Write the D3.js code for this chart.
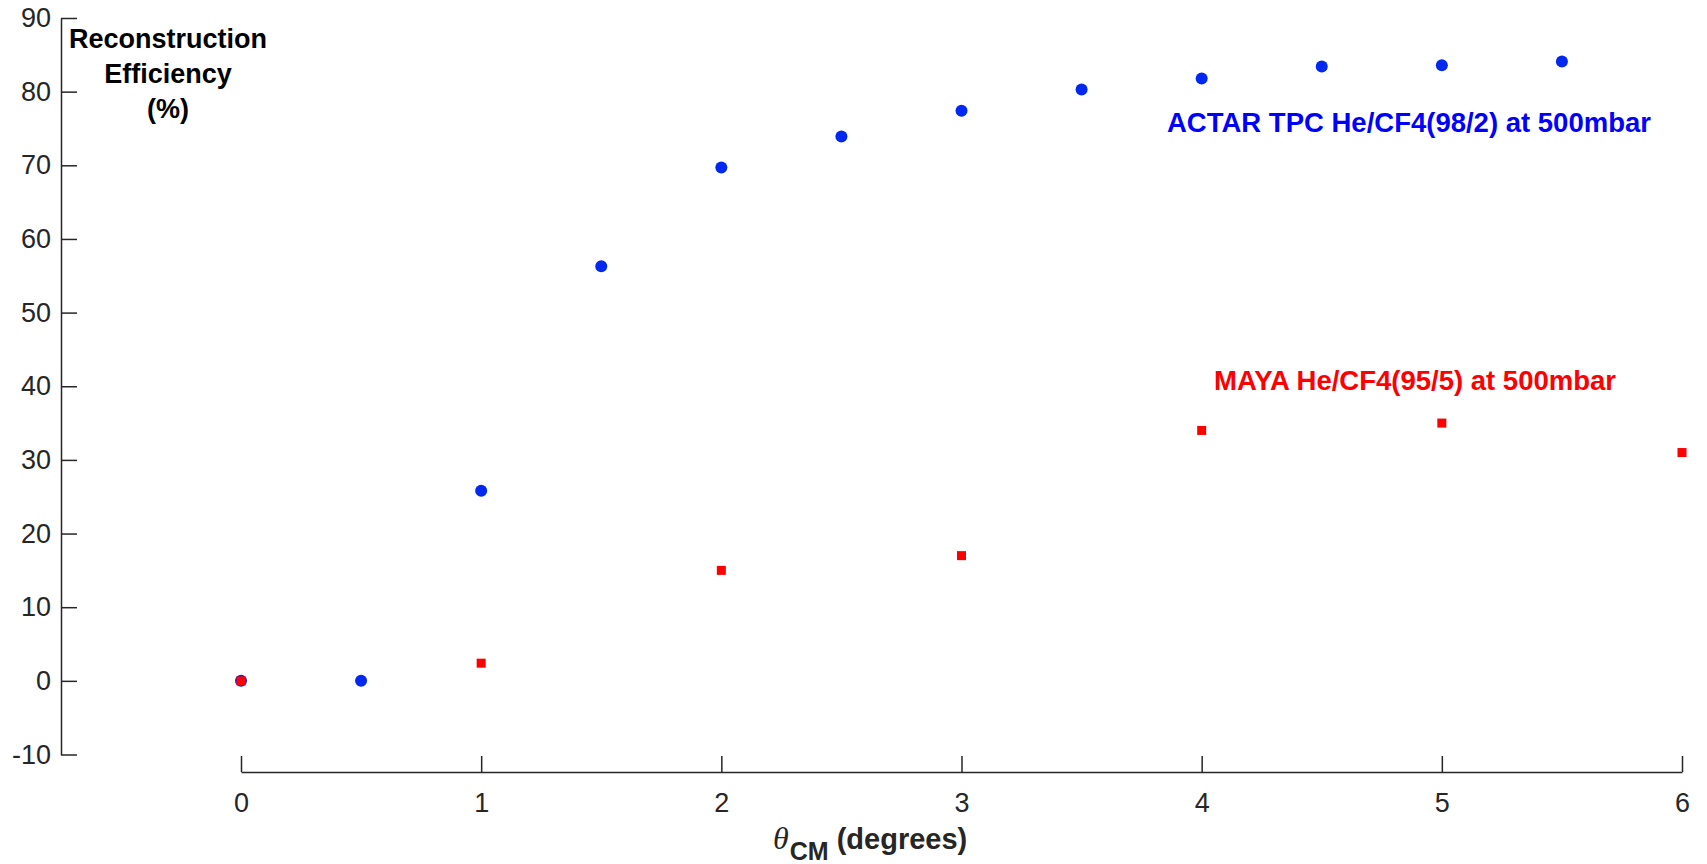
<!DOCTYPE html>
<html>
<head>
<meta charset="utf-8">
<script src="https://cdn.jsdelivr.net/npm/d3@7/dist/d3.min.js"></script>
<style>
  html, body { margin: 0; padding: 0; background: #fff; }
  svg { display: block; }
</style>
</head>
<body>
<script>
// Reconstruction efficiency vs. centre-of-mass angle for two active targets
const actarAngles = [0, 0.5, 1, 1.5, 2, 2.5, 3, 3.5, 4, 4.5, 5, 5.5];
const actarEff    = [0, 0, 25.8, 56.3, 69.7, 73.9, 77.4, 80.3, 81.8, 83.4, 83.6, 84.1];
const mayaAngles  = [0, 1, 2, 3, 4, 5, 6];
const mayaEff     = [0, 2.4, 15.0, 17.0, 34.0, 35.0, 31.0];
const xTicks = [0, 1, 2, 3, 4, 5, 6];
const yTicks = [-10, 0, 10, 20, 30, 40, 50, 60, 70, 80, 90];
const actarLabel = "ACTAR TPC He/CF4(98/2) at 500mbar";
const mayaLabel  = "MAYA He/CF4(95/5) at 500mbar";

const W = 1707, H = 864;
const axisColor = "#262626";
const blue = "#0028f0", red = "#ff0000";
const sans = "'Liberation Sans', Arial, sans-serif";
const plain = d => String(d); // hyphen-minus, as in the plotting tool's tick labels

const svg = d3.select("body").append("svg").attr("width", W).attr("height", H);

const x = d3.scaleLinear().domain([0, 6]).range([241, 1682]);
const y = d3.scaleLinear().domain([-10, 90]).range([754.5, 18]);

// y axis: ticks point into the plot, offset from the x axis
const yAxis = svg.append("g")
  .attr("transform", "translate(61,0)")
  .call(d3.axisLeft(y).tickValues(yTicks).tickFormat(plain)
    .tickSizeInner(-16).tickSizeOuter(0).tickPadding(10));

// x axis: ticks point up, starts at the first data column
const xAxis = svg.append("g")
  .attr("transform", "translate(0,772)")
  .call(d3.axisBottom(x).tickValues(xTicks).tickFormat(plain)
    .tickSizeInner(-16).tickSizeOuter(0).tickPadding(21));

[yAxis, xAxis].forEach(g => {
  g.selectAll("path, line").attr("stroke", axisColor).attr("stroke-width", 1.5);
  g.selectAll("text")
    .attr("fill", axisColor)
    .style("font-family", sans)
    .style("font-size", "27px");
});

// y axis title, three centred lines
const yTitle = svg.append("text")
  .attr("text-anchor", "middle")
  .style("font-family", sans)
  .style("font-size", "27px")
  .style("font-weight", "bold")
  .attr("fill", "#000");
["Reconstruction", "Efficiency", "(%)"].forEach((t, i) => {
  yTitle.append("tspan").attr("x", 168).attr("y", 48 + i * 35).text(t);
});

// x axis title with italic theta and subscript
const xTitle = svg.append("text")
  .attr("x", 773).attr("y", 849)
  .attr("fill", axisColor)
  .style("font-family", sans)
  .style("font-weight", "bold");
xTitle.append("tspan")
  .style("font-family", "'Liberation Serif', 'Times New Roman', serif")
  .style("font-style", "italic").style("font-weight", "normal")
  .style("font-size", "32px").text("θ");
xTitle.append("tspan").attr("dy", 11).attr("dx", 1).style("font-size", "25px").text("CM");
xTitle.append("tspan").attr("dy", -11).style("font-size", "29px").text(" (degrees)");

// ACTAR TPC points (circles)
svg.append("g").selectAll("circle")
  .data(actarAngles.map((a, i) => ({ a, v: actarEff[i] })))
  .join("circle")
  .attr("cx", d => x(d.a))
  .attr("cy", d => y(d.v))
  .attr("r", 6)
  .attr("fill", blue);

// MAYA points (squares)
const sq = 9;
svg.append("g").selectAll("rect")
  .data(mayaAngles.map((a, i) => ({ a, v: mayaEff[i] })))
  .join("rect")
  .attr("x", d => x(d.a) - sq / 2)
  .attr("y", d => y(d.v) - sq / 2)
  .attr("width", sq).attr("height", sq)
  .attr("fill", red);

// Series labels
svg.append("text")
  .attr("x", 1167).attr("y", 132)
  .attr("fill", "#0000ff")
  .style("font-family", sans)
  .style("font-size", "27.5px").style("font-weight", "bold")
  .text(actarLabel);

svg.append("text")
  .attr("x", 1214).attr("y", 390)
  .attr("fill", "#ff0000")
  .style("font-family", sans)
  .style("font-size", "27.5px").style("font-weight", "bold")
  .text(mayaLabel);
</script>
</body>
</html>
